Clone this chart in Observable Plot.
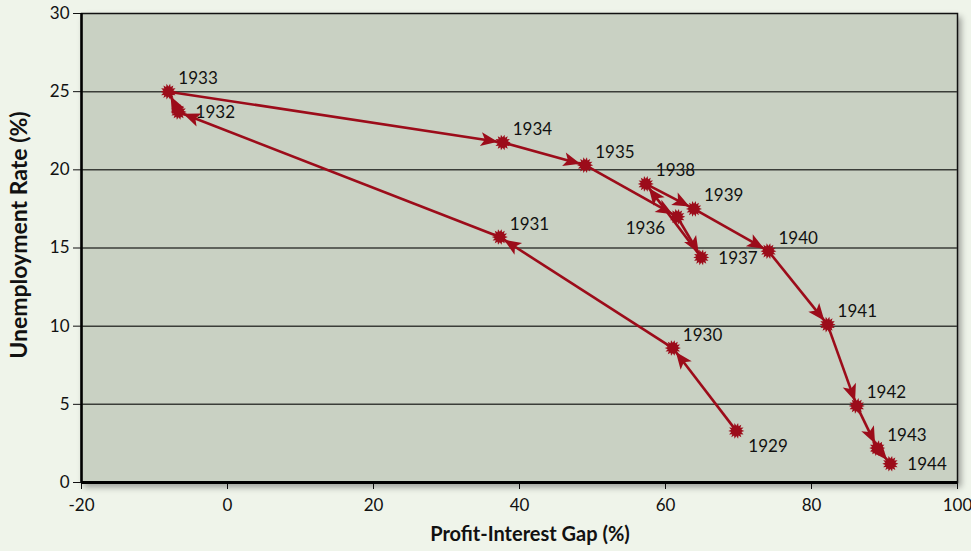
<!DOCTYPE html>
<html>
<head>
<meta charset="utf-8">
<script src="https://cdn.jsdelivr.net/npm/d3@7"></script>
<script src="https://cdn.jsdelivr.net/npm/@observablehq/plot@0.6"></script>
<style>
  html, body { margin: 0; padding: 0; background: #eff4ea; }
  #chart { width: 971px; height: 551px; }
  svg { display: block; }
  #chart svg text { font-size: 17px; }
</style>
</head>
<body>
<div id="chart"></div>
<script>
// ---- data ----
const years = [1929, 1930, 1931, 1932, 1933, 1934, 1935, 1936, 1937, 1938, 1939, 1940, 1941, 1942, 1943, 1944];
const profitInterestGap = [69.7, 61.0, 37.3, -6.7, -8.1, 37.7, 49.0, 61.6, 64.9, 57.3, 63.9, 74.1, 82.2, 86.2, 89.0, 90.8];
const unemploymentRate = [3.3, 8.6, 15.7, 23.7, 25.0, 21.75, 20.3, 17.0, 14.4, 19.1, 17.5, 14.8, 10.1, 4.9, 2.2, 1.2];
// label placement relative to point
const labelSide = ["se", "ne", "ne", "e", "ne", "ne", "ne", "sw", "e", "ne", "ne", "ne", "ne", "ne", "ne", "e"];
const xTicks = [-20, 0, 20, 40, 60, 80, 100];
const yTicks = [0, 5, 10, 15, 20, 25, 30];

// ---- layout ----
const W = 971, H = 551;
const mL = 81, mR = 14, mT = 13, mB = 69;
const red = "#9c0c1a";
const font = "Lato, 'Open Sans', sans-serif";

const points = years.map((yr, i) => ({year: yr, x: profitInterestGap[i], y: unemploymentRate[i], side: labelSide[i]}));
const segments = points.slice(1).map((p, i) => ({x1: points[i].x, y1: points[i].y, x2: p.x, y2: p.y}));

const xDomain = [-20, 100], yDomain = [0, 30];
const xs = Plot.scale({x: {domain: xDomain, range: [mL, W - mR]}});
const ys = Plot.scale({y: {domain: yDomain, range: [H - mB, mT]}});
segments.forEach(s => {
  const dx = xs.apply(s.x2) - xs.apply(s.x1);
  const dy = ys.apply(s.y2) - ys.apply(s.y1);
  s.angle = Math.atan2(dy, dx) * 180 / Math.PI;
});

// custom symbols
const arrowHead = {
  draw(ctx) {
    const inset = 5, L = 17, w = 7;
    ctx.moveTo(-inset, 0);
    ctx.lineTo(-inset - L, -w);
    ctx.lineTo(-inset - L + 4, 0);
    ctx.lineTo(-inset - L, w);
    ctx.closePath();
  }
};
const burst = {
  draw(ctx) {
    const n = 14;
    for (let k = 0; k < 2 * n; k++) {
      const a = Math.PI * k / n;
      const r = k % 2 ? 5.2 : 8;
      const px = r * Math.cos(a), py = r * Math.sin(a);
      if (k === 0) ctx.moveTo(px, py); else ctx.lineTo(px, py);
    }
    ctx.closePath();
  }
};

const off = {ne: [10, -13, "start"], e: [17, 1, "start"], se: [12, 16, "start"], sw: [-12, 12, "end"]};

const plot = Plot.plot({
  width: W, height: H,
  marginLeft: mL, marginRight: mR, marginTop: mT, marginBottom: mB,
  style: {background: "#eff4ea", fontFamily: font, fontSize: "17px", color: "#111"},
  x: {domain: xDomain, ticks: xTicks, tickSize: 7, tickPadding: 9, label: null, tickFormat: d => String(d)},
  y: {domain: yDomain, ticks: yTicks, tickSize: 8, tickPadding: 4, label: null, tickFormat: d => String(d)},
  marks: [
    Plot.frame({fill: "#c9d1c3", stroke: "#111", strokeWidth: 1.5, className: "pframe"}),
    Plot.ruleY(yTicks.filter(v => v > 0 && v < 30), {stroke: "#3a3d38", strokeWidth: 1.5}),
    Plot.ruleX([-20], {stroke: "#000", strokeWidth: 2.5}),
    Plot.ruleY([0], {stroke: "#000", strokeWidth: 3}),
    Plot.link(segments, {x1: "x1", y1: "y1", x2: "x2", y2: "y2", stroke: red, strokeWidth: 2.6}),
    Plot.dot(segments, {x: "x2", y: "y2", rotate: "angle", symbol: arrowHead, r: 6, fill: red, stroke: "none"}),
    Plot.dot(points, {x: "x", y: "y", symbol: burst, r: 7, fill: red, stroke: "none"}),
    ...Object.entries(off).map(([k, [dx, dy, anchor]]) =>
      Plot.text(points.filter(p => p.side === k), {x: "x", y: "y", text: d => String(d.year), dx, dy, textAnchor: anchor, fontSize: 17, fill: "#111"}))
  ]
});

// drop shadow on the plotting frame
const fr = plot.querySelector(".pframe rect") || plot.querySelector("[aria-label=frame] rect") || plot.querySelector("[aria-label=frame]");
if (fr) fr.style.filter = "drop-shadow(3px 4px 3px rgba(0,0,0,0.35))";

// axis titles
const ns = "http://www.w3.org/2000/svg";
function addTitle(txt, x, y, rot, size) {
  const t = document.createElementNS(ns, "text");
  t.setAttribute("x", x); t.setAttribute("y", y);
  t.setAttribute("text-anchor", "middle");
  t.setAttribute("fill", "#111");
  t.style.fontWeight = "bold";
  t.style.fontSize = size + "px";
  if (rot) t.setAttribute("transform", `rotate(-90 ${x} ${y})`);
  t.textContent = txt;
  plot.appendChild(t);
}
addTitle("Profit-Interest Gap (%)", 530, 541, false, 20);
addTitle("Unemployment Rate (%)", 27, 235, true, 23);

document.getElementById("chart").appendChild(plot);
</script>
</body>
</html>
